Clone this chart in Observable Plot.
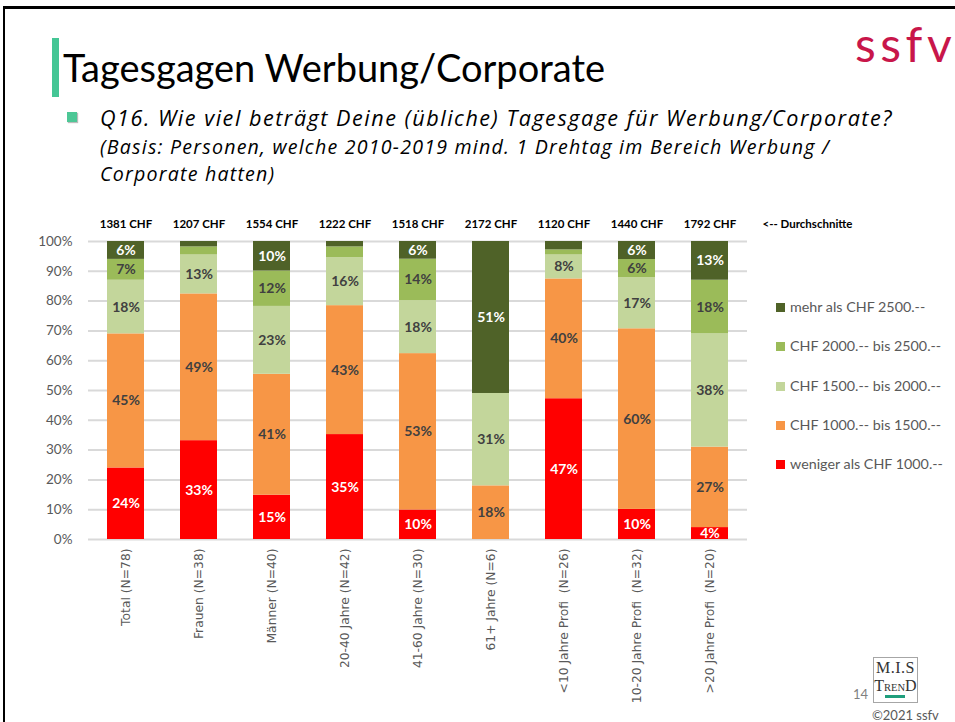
<!DOCTYPE html>
<html><head><meta charset="utf-8">
<script src="https://cdn.jsdelivr.net/npm/d3@7"></script>
<script src="https://cdn.jsdelivr.net/npm/@observablehq/plot@0.6"></script>
<style>
body{margin:0;background:#fff;}
#page{position:relative;width:955px;height:722px;overflow:hidden;font-family:Lato,"Open Sans",sans-serif;background:#fff;}
#frame{position:absolute;left:3px;top:6px;width:1000px;height:800px;border-left:2px solid #000;border-top:3px solid #000;}
#bar{position:absolute;left:52px;top:38px;width:7px;height:59px;background:#44c695;}
#title{position:absolute;left:63px;top:48px;font-size:38px;line-height:1;color:#000;white-space:nowrap;}
#logo{position:absolute;left:855px;top:20px;font-size:48px;line-height:1;color:#c8164a;white-space:nowrap;}
#logo .ls{letter-spacing:4.5px;}
#bullet{position:absolute;left:67px;top:112px;width:10px;height:10px;background:#4dc796;box-shadow:1px 1px 1px #bbb;}
.q{position:absolute;left:100px;font-family:"Open Sans",sans-serif;font-style:italic;color:#000;white-space:nowrap;line-height:1;}
#chart{position:absolute;left:0;top:205px;}
#chart svg text{white-space:pre;}
.leg{position:absolute;left:776px;font-size:14.3px;color:#595959;line-height:1;white-space:nowrap;}
.leg span{display:inline-block;width:9px;height:9px;margin-right:5px;vertical-align:0px;}
#pg{position:absolute;left:853px;top:686px;font-size:13px;color:#7f7f7f;}
#mis{position:absolute;left:873px;top:657px;width:43px;height:44px;border:1px solid #a6a6a6;font-family:"Liberation Serif",serif;color:#333;text-align:center;}
#mis .a{position:absolute;left:0;right:0;top:2px;font-size:16px;line-height:1;letter-spacing:0.5px;}
#mis .b{position:absolute;left:0;right:0;top:20px;font-size:16px;line-height:1;}
#mis .b small{font-size:10.5px;}
#mis .u{position:absolute;left:11px;top:37px;width:20px;height:3px;background:#1f9e7c;}
#copy{position:absolute;left:872px;top:709px;font-size:13px;color:#595959;line-height:1;white-space:nowrap;}
</style></head>
<body>
<div id="page">
<div id="frame"></div>
<div id="bar"></div>
<div id="title">Tagesgagen Werbung/Corporate</div>
<div id="logo"><span class="ls">ssf</span>v</div>
<div id="bullet"></div>
<div class="q" id="q1" style="top:107px;font-size:20px;">Q16. Wie viel beträgt Deine (übliche) Tagesgage für Werbung/Corporate?</div>
<div class="q" id="q2" style="top:137px;font-size:18px;">(Basis: Personen, welche 2010-2019 mind. 1 Drehtag im Bereich Werbung /</div>
<div class="q" id="q3" style="top:164px;font-size:18px;">Corporate hatten)</div>
<div id="chart"></div>
<div id="legend"></div>
<div id="pg">14</div>
<div id="mis"><div class="a">M.I.S</div><div class="b">T<small>REN</small>D</div><div class="u"></div></div>
<div id="copy">©2021 ssfv</div>
</div>
<script>
const categories = ["Total (N=78)", "Frauen (N=38)", "Männer (N=40)", "20-40 Jahre (N=42)", "41-60 Jahre (N=30)", "61+ Jahre (N=6)", "<10 Jahre Profi  (N=26)", "10-20 Jahre Profi  (N=32)", ">20 Jahre Profi  (N=20)"];
const means = [1381, 1207, 1554, 1222, 1518, 2172, 1120, 1440, 1792];
const seriesNames = ["weniger als CHF 1000.--", "CHF 1000.-- bis 1500.--", "CHF 1500.-- bis 2000.--", "CHF 2000.-- bis 2500.--", "mehr als CHF 2500.--"];
const seriesColors = ["#ff0000", "#f79646", "#c3d69b", "#9bbb59", "#4f6228"];
const under1000 = [24, 33, 15, 35, 10, 0, 47, 10, 4];
const from1000to1500 = [45, 49, 41, 43, 53, 18, 40, 60, 27];
const from1500to2000 = [18, 13, 23, 16, 18, 31, 8, 17, 38];
const from2000to2500 = [7, 2.7, 12, 3.6, 14, 0, 1.7, 6, 18];
const over2500 = [6, 1.8, 10, 1.8, 6, 51, 2.8, 6, 13];
const yTicks = [0, 0.1, 0.2, 0.3, 0.4, 0.5, 0.6, 0.7, 0.8, 0.9, 1];

// fit header text widths to the reference: mostly by size, the rest by spacing
function fitSpread(id, target, maxSize) {
  const el = document.getElementById(id);
  let w = el.getBoundingClientRect().width;
  const fs = parseFloat(getComputedStyle(el).fontSize);
  const nfs = Math.min(maxSize, fs * target / w);
  el.style.fontSize = nfs + "px";
  w = el.getBoundingClientRect().width;
  const ls = Math.max(0, (target - w) / el.textContent.length);
  el.style.letterSpacing = ls + "px";
  return [nfs, ls];
}
const r1 = fitSpread("title", 542, 60);
fitSpread("q1", 793, 21.6);
const [f2, l2] = fitSpread("q2", 730, 19.6);
const q3 = document.getElementById("q3");
q3.style.fontSize = f2 + "px";
q3.style.letterSpacing = l2 + "px";

const seriesValues = [under1000, from1000to1500, from1500to2000, from2000to2500, over2500];
const rows = [];
seriesNames.forEach((s, si) => categories.forEach((c, ci) => rows.push({cat: c, series: s, value: seriesValues[si][ci]})));
const whiteSet = new Set([seriesNames[0], seriesNames[4]]);
const lbl = d => d.value >= 4 ? Math.round(d.value) + "%" : null;
const stackOpts = {x: "cat", y: "value", z: "series", order: seriesNames, offset: "normalize"};
const meanRows = categories.map((c, i) => ({cat: c, text: means[i] + " CHF"}));

const chart = Plot.plot({
  width: 955, height: 517,
  marginTop: 36, marginBottom: 183, marginLeft: 88, marginRight: 208,
  style: {fontFamily: "Lato, sans-serif", background: "transparent", overflow: "visible"},
  x: {domain: categories, paddingInner: 0.5, paddingOuter: 0.25, label: null},
  y: {domain: [0, 1], label: null},
  color: {domain: seriesNames, range: seriesColors},
  marks: [
    Plot.gridY(yTicks, {stroke: "#d9d9d9", strokeOpacity: 1, strokeWidth: 2}),
    Plot.barY(rows, {...stackOpts, fill: "series"}),
    Plot.text(rows, Plot.stackY({...stackOpts, text: d => whiteSet.has(d.series) ? null : lbl(d), fill: "#404040", fontWeight: "bold", fontSize: 14})),
    Plot.text(rows, Plot.stackY({...stackOpts, text: d => whiteSet.has(d.series) ? lbl(d) : null, fill: "#ffffff", fontWeight: "bold", fontSize: 14})),
    Plot.text(meanRows, {x: "cat", text: "text", frameAnchor: "top", lineAnchor: "middle", dy: -17, fontWeight: "bold", fontSize: 11.5, fill: "#000"}),
    Plot.text(["<-- Durchschnitte"], {frameAnchor: "top-right", lineAnchor: "middle", textAnchor: "start", dx: 15, dy: -17, fontWeight: "bold", fontSize: 11.5, fill: "#000"}),
    Plot.axisY(yTicks, {tickSize: 0, tickPadding: 16, fontSize: 13.5, fill: "#595959", tickFormat: d => Math.round(d * 100) + "%", label: null}),
    Plot.axisX({tickRotate: -90, tickSize: 0, tickPadding: 9, fontSize: 12.3, fontFamily: "DejaVu Sans", fill: "#595959", label: null})
  ]
});
document.getElementById("chart").appendChild(chart);

const legendTops = [300, 339, 379, 418, 457];
const legend = document.getElementById("legend");
[4, 3, 2, 1, 0].forEach((si, k) => {
  const d = document.createElement("div");
  d.className = "leg";
  d.style.top = legendTops[k] + "px";
  d.innerHTML = `<span style="background:${seriesColors[si]}"></span>`;
  d.appendChild(document.createTextNode(seriesNames[si]));
  legend.appendChild(d);
});
</script>
</body></html>
